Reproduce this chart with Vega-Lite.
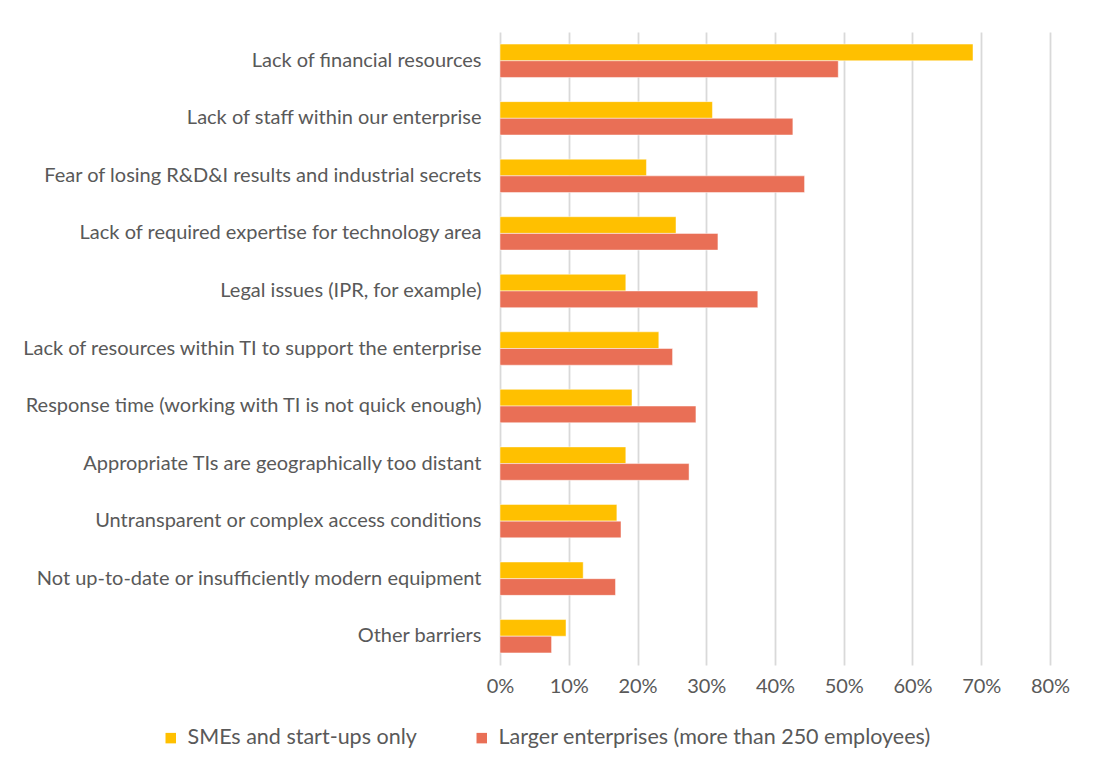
{
  "$schema": "https://vega.github.io/schema/vega-lite/v6.json",
  "autosize": "none",
  "width": 550,
  "height": 633,
  "padding": {"left": 500, "top": 32, "right": 51, "bottom": 111},
  "background": "white",
  "data": {
    "values": [
      {"barrier": "Lack of financial resources", "group": "SMEs and start-ups only", "value": 0.688},
      {"barrier": "Lack of financial resources", "group": "Larger enterprises (more than 250 employees)", "value": 0.492},
      {"barrier": "Lack of staff within our enterprise", "group": "SMEs and start-ups only", "value": 0.309},
      {"barrier": "Lack of staff within our enterprise", "group": "Larger enterprises (more than 250 employees)", "value": 0.426},
      {"barrier": "Fear of losing R&D&I results and industrial secrets", "group": "SMEs and start-ups only", "value": 0.213},
      {"barrier": "Fear of losing R&D&I results and industrial secrets", "group": "Larger enterprises (more than 250 employees)", "value": 0.443},
      {"barrier": "Lack of required expertise for technology area", "group": "SMEs and start-ups only", "value": 0.256},
      {"barrier": "Lack of required expertise for technology area", "group": "Larger enterprises (more than 250 employees)", "value": 0.317},
      {"barrier": "Legal issues (IPR, for example)", "group": "SMEs and start-ups only", "value": 0.183},
      {"barrier": "Legal issues (IPR, for example)", "group": "Larger enterprises (more than 250 employees)", "value": 0.375},
      {"barrier": "Lack of resources within TI to support the enterprise", "group": "SMEs and start-ups only", "value": 0.231},
      {"barrier": "Lack of resources within TI to support the enterprise", "group": "Larger enterprises (more than 250 employees)", "value": 0.251},
      {"barrier": "Response time (working with TI is not quick enough)", "group": "SMEs and start-ups only", "value": 0.192},
      {"barrier": "Response time (working with TI is not quick enough)", "group": "Larger enterprises (more than 250 employees)", "value": 0.285},
      {"barrier": "Appropriate TIs are geographically too distant", "group": "SMEs and start-ups only", "value": 0.183},
      {"barrier": "Appropriate TIs are geographically too distant", "group": "Larger enterprises (more than 250 employees)", "value": 0.275},
      {"barrier": "Untransparent or complex access conditions", "group": "SMEs and start-ups only", "value": 0.170},
      {"barrier": "Untransparent or complex access conditions", "group": "Larger enterprises (more than 250 employees)", "value": 0.176},
      {"barrier": "Not up-to-date or insufficiently modern equipment", "group": "SMEs and start-ups only", "value": 0.121},
      {"barrier": "Not up-to-date or insufficiently modern equipment", "group": "Larger enterprises (more than 250 employees)", "value": 0.168},
      {"barrier": "Other barriers", "group": "SMEs and start-ups only", "value": 0.096},
      {"barrier": "Other barriers", "group": "Larger enterprises (more than 250 employees)", "value": 0.075}
    ]
  },
  "mark": {"type": "bar", "stroke": "white", "strokeOpacity": 0.6, "strokeWidth": 0.8},
  "encoding": {
    "y": {
      "field": "barrier",
      "type": "nominal",
      "sort": null,
      "scale": {"paddingInner": 0.42, "paddingOuter": 0.21},
      "axis": {
        "title": null,
        "domain": false,
        "ticks": false,
        "labelFont": "Lato",
        "labelFontSize": 20,
        "labelColor": "#595959",
        "labelPadding": 19,
        "labelLimit": 500
      }
    },
    "yOffset": {
      "field": "group",
      "type": "nominal",
      "sort": ["SMEs and start-ups only", "Larger enterprises (more than 250 employees)"]
    },
    "x": {
      "field": "value",
      "type": "quantitative",
      "scale": {"domain": [0, 0.8], "nice": false},
      "axis": {
        "title": null,
        "format": ".0%",
        "values": [0, 0.1, 0.2, 0.3, 0.4, 0.5, 0.6, 0.7, 0.8],
        "domain": false,
        "ticks": false,
        "grid": true,
        "gridColor": "#d9d9d9",
        "gridWidth": 1.8,
        "labelFlush": false,
        "labelFont": "Lato",
        "labelFontSize": 20,
        "labelColor": "#595959",
        "labelPadding": 11
      }
    },
    "color": {
      "field": "group",
      "type": "nominal",
      "scale": {
        "domain": ["SMEs and start-ups only", "Larger enterprises (more than 250 employees)"],
        "range": ["#FFC000", "#E96F56"]
      },
      "legend": {
        "title": null,
        "orient": "none",
        "direction": "horizontal",
        "legendX": -340,
        "legendY": 695,
        "symbolType": "square",
        "symbolSize": 110,
        "symbolStrokeWidth": 0,
        "labelFont": "Lato",
        "labelFontSize": 21.5,
        "labelColor": "#595959",
        "labelOffset": 6,
        "columnPadding": 54,
        "labelLimit": 600
      }
    }
  },
  "config": {
    "view": {"stroke": null}
  }
}
